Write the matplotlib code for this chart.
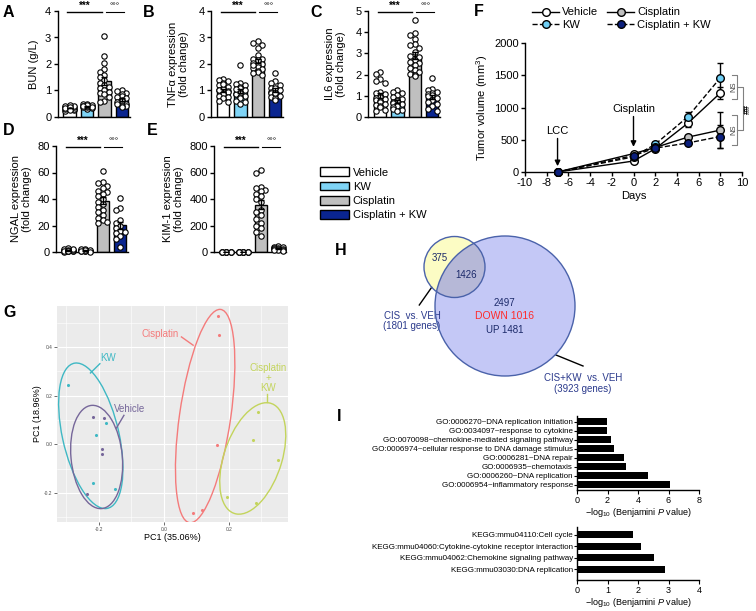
import numpy as np
import matplotlib
matplotlib.use('Agg')
import matplotlib.pyplot as plt
from matplotlib.patches import Patch, Ellipse, Circle
from matplotlib.lines import Line2D

plt.rcParams['font.family'] = ['Liberation Sans', 'DejaVu Sans']
plt.rcParams['mathtext.fontset'] = 'custom'
plt.rcParams['mathtext.rm'] = 'Liberation Sans'
plt.rcParams['mathtext.it'] = 'Liberation Sans:italic'
plt.rcParams['axes.linewidth'] = 1.0
plt.rcParams['axes.unicode_minus'] = False

W, H = 756, 611

# ============================================================================
# data
# ============================================================================
groups = ['Vehicle', 'KW', 'Cisplatin', 'Cisplatin + KW']
group_colors = ['#ffffff', '#7fd4f6', '#bfbfbf', '#0a2590']

# A: BUN (g/L)
bun_vehicle = [0.22, 0.28, 0.30, 0.32, 0.35, 0.36, 0.38, 0.40, 0.42, 0.45, 0.30, 0.34, 0.38, 0.27]
bun_kw = [0.30, 0.35, 0.38, 0.40, 0.42, 0.45, 0.48, 0.50, 0.40, 0.36, 0.44, 0.38, 0.42]
bun_cis = [3.05, 2.32, 2.05, 1.80, 1.70, 1.60, 1.50, 1.40, 1.30, 1.20, 1.15, 1.10, 1.00,
           0.95, 0.90, 0.85, 0.75, 0.62, 0.55]
bun_ciskw = [1.00, 0.98, 0.92, 0.85, 0.80, 0.75, 0.70, 0.65, 0.60, 0.55, 0.50, 0.45,
             0.42, 0.40, 0.38, 0.50]

# B: TNFa (fold change)
tnf_vehicle = [1.45, 1.40, 1.35, 1.30, 1.20, 1.15, 1.10, 1.05, 1.00, 0.98, 0.95, 0.90,
               0.85, 0.80, 0.75, 0.70, 0.60, 0.55, 1.25, 1.00]
tnf_kw = [1.95, 1.30, 1.25, 1.20, 1.15, 1.10, 1.00, 0.95, 0.90, 0.88, 0.85, 0.80,
          0.75, 0.70, 0.62, 0.55, 0.50, 1.05]
tnf_cis = [2.88, 2.80, 2.72, 2.60, 2.35, 2.20, 2.20, 2.10, 2.05, 2.00, 1.95, 1.90,
           1.85, 1.80, 1.75, 1.70, 1.65, 1.60, 2.15, 1.98]
tnf_ciskw = [1.65, 1.35, 1.30, 1.20, 1.10, 1.05, 1.00, 0.95, 0.90, 0.85, 0.80, 0.75,
             0.70, 0.65, 1.10, 0.90]

# C: IL6 (fold change)
il6_vehicle = [2.10, 2.05, 1.80, 1.70, 1.60, 1.20, 1.15, 1.10, 1.00, 0.95, 0.90, 0.85,
               0.80, 0.75, 0.70, 0.60, 0.55, 0.50, 0.45, 0.35, 0.30]
il6_kw = [1.25, 1.20, 1.15, 1.05, 0.95, 0.85, 0.80, 0.75, 0.70, 0.65, 0.60, 0.55,
          0.50, 0.45, 0.40, 0.35, 0.30]
il6_cis = [4.57, 3.95, 3.85, 3.70, 3.45, 3.40, 3.25, 3.05, 2.85, 2.70, 2.55, 2.45,
           2.30, 2.20, 2.10, 2.05, 2.00, 1.95, 2.60, 2.90]
il6_ciskw = [1.85, 1.30, 1.25, 1.20, 1.15, 1.10, 1.05, 1.00, 0.90, 0.80, 0.70, 0.60,
             0.50, 0.40, 0.30]

# D: NGAL (fold change)
ngal_vehicle = [0.5, 0.8, 1.0, 1.2, 1.5, 2.0, 2.5, 3.0, 0.3, 0.6, 1.0, 1.8, 0.4, 0.7]
ngal_kw = [0.5, 0.8, 1.0, 1.2, 1.5, 2.0, 2.2, 0.3, 0.6, 1.0, 1.4, 0.9]
ngal_cis = [61.5, 53, 52, 50, 48, 46, 45, 44, 42, 40, 38, 36, 34, 32, 30, 28, 26, 24, 23, 22]
ngal_ciskw = [40.5, 33, 32, 24, 22, 20, 18, 16, 15, 14, 12, 10, 4]

# E: KIM-1 (fold change)
kim_vehicle = [1.0, 1.0, 1.0, 1.0, 1.0, 1.0, 1.2, 0.8, 1.1, 0.9]
kim_kw = [1.0, 1.0, 1.0, 1.0, 1.0, 1.0, 1.0, 1.2, 0.8, 1.0, 1.0]
kim_cis = [620, 595, 490, 485, 470, 460, 440, 420, 400, 380, 320, 300, 280, 250,
           220, 200, 180, 150, 120]
kim_ciskw = [45, 38, 35, 30, 28, 25, 22, 20, 18, 15, 12, 10]

# F: tumor volume (mm3)
days = [-7, 0, 2, 5, 8]
tumor_vehicle = [0, 170, 360, 755, 1225]
tumor_vehicle_err = [0, 20, 25, 50, 95]
tumor_kw = [0, 235, 430, 855, 1460]
tumor_kw_err = [0, 25, 30, 75, 230]
tumor_cis = [0, 285, 380, 540, 650]
tumor_cis_err = [0, 25, 25, 40, 280]
tumor_ciskw = [0, 255, 370, 450, 550]
tumor_ciskw_err = [0, 25, 25, 35, 175]
events = ['LCC', 'Cisplatin']
event_days = [-7, 0]

# G: PCA
pca_groups = ['KW', 'Vehicle', 'Cisplatin', 'Cisplatin\n+\nKW']
pca_colors = ['#3fb8c4', '#76679a', '#f47b7b', '#c3d45c']
pca_kw_x = [-0.294, -0.210, -0.178, -0.218, -0.151]
pca_kw_y = [0.242, 0.037, 0.087, -0.157, -0.185]
pca_veh_x = [-0.218, -0.185, -0.191, -0.191, -0.236]
pca_veh_y = [0.112, 0.108, -0.021, -0.041, -0.205]
pca_cis_x = [0.168, 0.171, 0.162, 0.090, 0.118]
pca_cis_y = [0.527, 0.448, -0.004, -0.281, -0.271]
pca_ciskw_x = [0.290, 0.275, 0.350, 0.193, 0.282]
pca_ciskw_y = [0.133, 0.016, -0.066, -0.218, -0.243]
ell_center = [(-0.225, 0.035), (-0.207, -0.052), (0.127, 0.116), (0.2735, -0.058)]
ell_width = [0.605, 0.425, 0.881, 0.467]
ell_height = [0.175, 0.158, 0.158, 0.181]
ell_angle = [99.2, 93.8, 83.9, 77.6]

# H: Venn
venn_center = [(454.5, 267.0), (505.0, 306.0)]
venn_radius = [30.5, 70.0]
venn_only_cis = 375
venn_shared = 1426
venn_only_ciskw = 2497
venn_down = 1016
venn_up = 1481

# I: enrichment
go_terms = ['GO:0006270~DNA replication initiation',
            'GO:0034097~response to cytokine',
            'GO:0070098~chemokine-mediated signaling pathway',
            'GO:0006974~cellular response to DNA damage stimulus',
            'GO:0006281~DNA repair',
            'GO:0006935~chemotaxis',
            'GO:0006260~DNA replication',
            'GO:0006954~inflammatory response']
go_vals = [1.96, 1.98, 2.20, 2.42, 3.08, 3.23, 4.66, 6.13]
kegg_terms = ['KEGG:mmu04110:Cell cycle',
              'KEGG:mmu04060:Cytokine-cytokine receptor interaction',
              'KEGG:mmu04062:Chemokine signaling pathway',
              'KEGG:mmu03030:DNA replication']
kegg_vals = [1.84, 2.11, 2.52, 2.90]


# ============================================================================
# helpers
# ============================================================================
def box(x0, y0, x1, y1):
    """pixel box (top-left origin) -> figure fraction rect"""
    return [x0 / W, 1 - y1 / H, (x1 - x0) / W, (y1 - y0) / H]


def ftext(fig, x, y, s, **kw):
    fig.text(x / W, 1 - y / H, s, **kw)


def swarm(vals, thr, dx=0.26):
    slots = [0.0, -dx, dx, -dx / 2, dx / 2]
    vals = np.asarray(vals, dtype=float)
    order = np.argsort(vals)[::-1]
    xs = np.zeros(len(vals))
    placed = []
    for i in order:
        best, best_hits = 0.0, None
        for s in slots:
            hits = sum(1 for v, x in placed
                       if abs(vals[i] - v) < thr and abs(s - x) < dx * 0.95)
            if best_hits is None or hits < best_hits:
                best, best_hits = s, hits
            if hits == 0:
                break
        xs[i] = best
        placed.append((vals[i], best))
    return xs


def bar_panel(ax, data, ymax, ystep, ylabel, labelpad=4):
    pos = np.arange(len(data))
    means = [np.mean(v) for v in data]
    sems = [np.std(v, ddof=1) / np.sqrt(len(v)) for v in data]
    ax.bar(pos, means, width=0.72, color=group_colors, edgecolor='black',
           linewidth=1, zorder=2)
    thr = ymax * 5.0 / 106
    for i, v in enumerate(data):
        ax.scatter(pos[i] + swarm(v, thr), v, s=15, facecolor='white',
                   edgecolor='black', linewidth=0.8, zorder=3, clip_on=False)
    ax.errorbar(pos, means, yerr=sems, fmt='none', ecolor='black',
                elinewidth=1, capsize=2.2, capthick=1, zorder=4)
    ax.set_xlim(-0.7, 3.45)
    ax.set_ylim(0, ymax)
    ax.set_yticks(np.arange(0, ymax + ystep / 2, ystep))
    ax.set_xticks([])
    ax.spines[['top', 'right']].set_visible(False)
    ax.tick_params(axis='y', length=3, width=1, labelsize=8, pad=1.5)
    ax.set_ylabel(ylabel, fontsize=8, labelpad=labelpad, linespacing=1.1)
    ytop = ymax * 0.995
    ax.plot([-0.15, 1.85], [ytop, ytop], color='black', lw=1, clip_on=False)
    ax.plot([2.08, 3.1], [ytop, ytop], color='black', lw=0.8, clip_on=False)
    ax.text(0.85, ytop + ymax * 0.005, '***', ha='center', va='bottom',
            fontsize=7, fontweight='bold')
    ax.text(2.59, ytop + ymax * 0.015, '\u00b0\u00b0\u00b0', ha='center',
            va='bottom', fontsize=6)


# ============================================================================
# figure
# ============================================================================
fig = plt.figure(figsize=(W / 100, H / 100), dpi=100)

# ----- A-E bar panels -----
axA = fig.add_axes(box(57.5, 11, 129.7, 117))
bar_panel(axA, [bun_vehicle, bun_kw, bun_cis, bun_ciskw], 4, 1, 'BUN (g/L)')
axB = fig.add_axes(box(211, 11, 283, 117))
bar_panel(axB, [tnf_vehicle, tnf_kw, tnf_cis, tnf_ciskw], 4, 1,
          'TNF\u03b1 expression\n(fold change)', labelpad=7)
axC = fig.add_axes(box(368, 11, 440, 117))
bar_panel(axC, [il6_vehicle, il6_kw, il6_cis, il6_ciskw], 5, 1,
          'IL6 expression\n(fold change)', labelpad=7)
axD = fig.add_axes(box(56, 146, 128, 252))
bar_panel(axD, [ngal_vehicle, ngal_kw, ngal_cis, ngal_ciskw], 80, 20,
          'NGAL expression\n(fold change)')
axE = fig.add_axes(box(214, 146, 286, 252))
bar_panel(axE, [kim_vehicle, kim_kw, kim_cis, kim_ciskw], 800, 200,
          'KIM-1 expression\n(fold change)')

bar_handles = [Patch(facecolor=c, edgecolor='black', linewidth=1) for c in group_colors]
fig.legend(bar_handles, groups, loc='upper left', bbox_to_anchor=(316 / W, 1 - 163 / H),
           frameon=False, fontsize=8, handlelength=2.6, handleheight=0.85,
           labelspacing=0.35, handletextpad=0.3, borderaxespad=0)

# ----- F tumor volume -----
axF = fig.add_axes(box(525, 43, 742, 172))
series = [
    ('Vehicle', tumor_vehicle, tumor_vehicle_err, '-', '#ffffff'),
    ('KW', tumor_kw, tumor_kw_err, '--', '#6fcff5'),
    ('Cisplatin', tumor_cis, tumor_cis_err, '-', '#c0c0c0'),
    ('Cisplatin + KW', tumor_ciskw, tumor_ciskw_err, '--', '#0b1f7c'),
]
f_handles = []
for name, vals, errs, ls, fc in series:
    axF.errorbar(days, vals, yerr=errs, fmt='none', ecolor='black', elinewidth=1,
                 capsize=2.5, capthick=1, zorder=2)
    axF.plot(days, vals, ls=ls, color='black', lw=1, marker='o', ms=5.5,
             mfc=fc, mec='black', mew=1, zorder=3, clip_on=False)
    f_handles.append(Line2D([], [], ls=ls, color='black', lw=1, marker='o', ms=5.5,
                            mfc=fc, mec='black', mew=1))
axF.set_xlim(-10, 10)
axF.set_ylim(0, 2000)
axF.set_xticks(np.arange(-10, 11, 2))
axF.set_yticks(np.arange(0, 2001, 500))
axF.spines[['top', 'right']].set_visible(False)
axF.tick_params(length=3, width=1, labelsize=8, pad=1.5)
axF.set_xlabel('Days', fontsize=8, labelpad=2)
axF.set_ylabel('Tumor volume (mm$^3$)', fontsize=8, labelpad=3)
fig.legend(f_handles, [s[0] for s in series], ncol=2, loc='upper left',
           bbox_to_anchor=(528 / W, 1 - 3 / H), frameon=False, fontsize=8,
           handlelength=2.4, columnspacing=0.8, labelspacing=0.2,
           handletextpad=0.3, borderaxespad=0)

# event arrows
for name, d, ytxt, ytail, yhead in zip(events, event_days, [560, 900], [520, 860], [90, 390]):
    axF.annotate('', xy=(d, yhead), xytext=(d, ytail),
                 arrowprops=dict(arrowstyle='-|>', color='black', lw=1,
                                 mutation_scale=8, shrinkA=0, shrinkB=0))
    axF.text(d, ytxt, name, ha='center', va='bottom', fontsize=8)

# significance brackets at day 8
for top, bot in [(1500, 1130), (880, 420)]:
    axF.plot([9.1, 9.55, 9.55, 9.1], [top, top, bot, bot], color='#808080',
             lw=0.8, clip_on=False)
    axF.text(9.25, (top + bot) / 2, 'NS', rotation=90, ha='center', va='center',
             fontsize=5.5, color='#404040')
axF.plot([9.55, 10.1, 10.1, 9.55], [1315, 1315, 650, 650], color='#808080',
         lw=0.8, clip_on=False)
axF.text(10.5, 980, '##', rotation=90, ha='center', va='center', fontsize=6.5,
         fontweight='bold')

# ----- G PCA -----
axG = fig.add_axes(box(57, 306, 288, 522))
axG.set_facecolor('#ebebeb')
axG.set_xlim(-0.329, 0.382)
axG.set_ylim(-0.319, 0.568)
axG.set_xticks([-0.2, 0.0, 0.2])
axG.set_yticks([-0.2, 0.0, 0.2, 0.4])
axG.set_xticks([-0.3, -0.1, 0.1, 0.3], minor=True)
axG.set_yticks([-0.3, -0.1, 0.1, 0.3, 0.5], minor=True)
axG.grid(True, which='major', color='white', lw=0.8)
axG.grid(True, which='minor', color='white', lw=0.4)
axG.set_axisbelow(True)
for sp in axG.spines.values():
    sp.set_visible(False)
axG.tick_params(which='major', length=2, width=0.5, color='#333333',
                labelsize=3.5, labelcolor='#4d4d4d', pad=1.5)
axG.tick_params(which='minor', length=0)
axG.set_xlabel('PC1 (35.06%)', fontsize=6.5, labelpad=1)
axG.set_ylabel('PC1 (18.96%)', fontsize=6.5, labelpad=1)
pca_xs = [pca_kw_x, pca_veh_x, pca_cis_x, pca_ciskw_x]
pca_ys = [pca_kw_y, pca_veh_y, pca_cis_y, pca_ciskw_y]
for i in range(4):
    axG.scatter(pca_xs[i], pca_ys[i], s=1.5, color=pca_colors[i], zorder=3)
    axG.add_patch(Ellipse(ell_center[i], ell_width[i], ell_height[i],
                          angle=ell_angle[i], fill=False, ec=pca_colors[i],
                          lw=1, zorder=2))
# labels with leader lines
g_label_xy = [(-0.171, 0.354), (-0.105, 0.144), (-0.012, 0.455), (0.321, 0.271)]
g_leader = [((-0.197, 0.331), (-0.226, 0.293)),
            ((-0.123, 0.119), (-0.146, 0.067)),
            ((0.054, 0.441), (0.090, 0.407)),
            ((0.316, 0.208), (0.316, 0.174))]
for i in range(4):
    axG.text(*g_label_xy[i], pca_groups[i], color=pca_colors[i], fontsize=7,
             ha='center', va='center', linespacing=1.0)
    (x0, y0), (x1, y1) = g_leader[i]
    axG.plot([x0, x1], [y0, y1], color=pca_colors[i], lw=1)

# ----- H Venn -----
axH = fig.add_axes(box(380, 228, 756, 400))
axH.set_xlim(380, 756)
axH.set_ylim(400, 228)
axH.axis('off')
big = Circle(venn_center[1], venn_radius[1], fc='#c4c8f6', ec='none', zorder=1)
small = Circle(venn_center[0], venn_radius[0], fc='#fcfcc4', ec='none', zorder=2)
axH.add_patch(big)
axH.add_patch(small)
inter = Circle(venn_center[0], venn_radius[0], fc='#b6b8d7', ec='none', zorder=3)
axH.add_patch(inter)
inter.set_clip_path(big)
for c, r in zip(venn_center, venn_radius):
    axH.add_patch(Circle(c, r, fill=False, ec='#4a62aa', lw=1, zorder=4))
num_kw = dict(ha='center', va='center', fontsize=7, color='#1c2a6a', zorder=5)
axH.text(439.3, 258.3, str(venn_only_cis), **num_kw)
axH.text(466, 275, str(venn_shared), **num_kw)
axH.text(504.3, 302.7, str(venn_only_ciskw), **num_kw)
axH.text(504.3, 315.5, f'DOWN {venn_down}', ha='center', va='center', fontsize=7.5,
         color='#ff2a2a', zorder=5)
axH.text(504.3, 329.5, f'UP {venn_up}', **num_kw)
axH.plot([419.3, 431.7], [305, 287.3], color='black', lw=1)
axH.plot([556, 583], [355, 366], color='black', lw=1)
axH.text(412, 321, 'CIS  vs. VEH\n(1801 genes)', ha='center', va='center',
         fontsize=7, color='#2b3a8c', linespacing=1.05)
axH.text(583, 383.5, 'CIS+KW  vs. VEH\n(3923 genes)', ha='center', va='center',
         fontsize=7, color='#2b3a8c', linespacing=1.05)

# ----- I enrichment bars -----
def enrich_panel(rect, terms, vals, xmax, ylim, height):
    ax = fig.add_axes(rect)
    ypos = np.arange(len(terms))
    ax.barh(ypos, vals, height=height, color='black')
    ax.set_xlim(0, xmax)
    ax.set_ylim(*ylim)
    ax.set_yticks(ypos)
    ax.set_yticklabels(terms, fontsize=5.8)
    ax.set_xticks(np.arange(0, xmax + 0.1, 2 if xmax > 4 else 1))
    ax.spines[['top', 'right']].set_visible(False)
    ax.tick_params(axis='y', length=2, width=0.8, pad=1)
    ax.tick_params(axis='x', length=3, width=0.8, labelsize=6.5, pad=1.5)
    ax.set_xlabel(r'$-$log$_{10}$ (Benjamini $P$ value)', fontsize=6.5, labelpad=0.5)
    return ax

enrich_panel(box(577, 416, 699, 490), go_terms, go_vals, 8, (7.6, -0.63), 0.72)
enrich_panel(box(577, 527, 699, 580), kegg_terms, kegg_vals, 4, (3.95, -0.67), 0.62)

# ----- panel letters -----
for letter, x, y in [('A', 3, 5), ('B', 143, 5), ('C', 310, 5), ('D', 3, 123),
                     ('E', 147, 123), ('F', 474, 4), ('G', 3, 305), ('H', 335, 243),
                     ('I', 337, 409)]:
    ftext(fig, x, y, letter, fontsize=11.5, fontweight='bold', va='top', ha='left')

fig.savefig('out.png', dpi=100)
